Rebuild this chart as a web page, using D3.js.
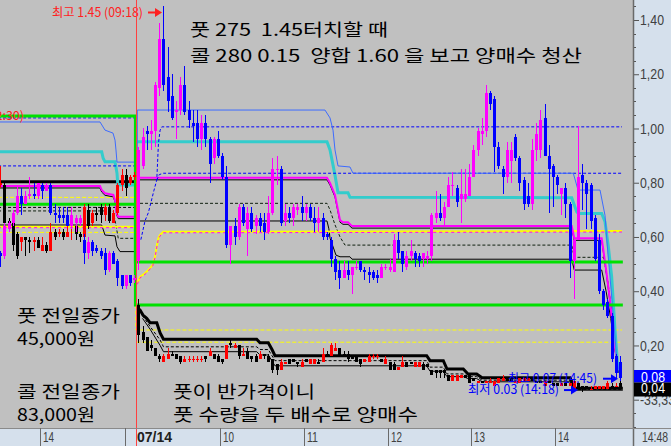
<!DOCTYPE html>
<html><head><meta charset="utf-8">
<script src="https://cdn.jsdelivr.net/npm/d3@7"></script>
<style>
html,body{margin:0;padding:0;background:#c0c0c0;}
svg{display:block;}
text{white-space:pre;}
</style></head><body>
<svg id="c" width="671" height="446"></svg>
<script>
// ---------- DATA ----------
// bar index: 0 = 09:00 today (3-minute bars); negative = previous day
const putPrevStart = -33;
const putPrev = [
[0.54,0.55,0.49,0.53],[0.53,0.65,0.52,0.64],[0.63,0.66,0.62,0.65],[0.65,0.70,0.64,0.69],
[0.69,0.79,0.68,0.75],[0.75,0.78,0.68,0.72],[0.72,0.77,0.72,0.75],[0.75,0.82,0.74,0.76],
[0.76,0.80,0.74,0.75],[0.75,0.80,0.74,0.80],[0.79,0.80,0.74,0.77],[0.77,0.80,0.77,0.79],
[0.79,0.80,0.68,0.69],[0.69,0.72,0.65,0.68],[0.68,0.71,0.65,0.67],[0.68,0.71,0.65,0.67],
[0.68,0.71,0.64,0.64],[0.64,0.71,0.63,0.68],[0.65,0.68,0.62,0.67],[0.65,0.68,0.64,0.67],
[0.59,0.61,0.50,0.54],[0.54,0.60,0.52,0.58],[0.58,0.59,0.53,0.55],[0.56,0.57,0.54,0.55],
[0.55,0.56,0.52,0.53],[0.54,0.56,0.46,0.48],[0.48,0.55,0.47,0.54],[0.54,0.55,0.50,0.50],
[0.51,0.52,0.42,0.45],[0.46,0.46,0.41,0.42],[0.42,0.46,0.41,0.46],[0.46,0.46,0.42,0.43],
[0.44,0.46,0.43,0.45]];
const callPrev = [
[0.79,0.86,0.78,0.80],[0.79,0.80,0.62,0.65],[0.66,0.67,0.63,0.64],[0.65,0.66,0.55,0.57],
[0.61,0.62,0.52,0.53],[0.58,0.60,0.55,0.60],[0.60,0.60,0.53,0.59],[0.59,0.60,0.54,0.58],
[0.58,0.60,0.55,0.59],[0.59,0.60,0.56,0.56],[0.55,0.60,0.55,0.57],[0.57,0.58,0.54,0.55],
[0.55,0.65,0.55,0.62],[0.62,0.63,0.59,0.60],[0.61,0.63,0.60,0.62],[0.62,0.63,0.59,0.60],
[0.60,0.66,0.60,0.62],[0.64,0.69,0.59,0.67],[0.64,0.65,0.59,0.61],[0.61,0.62,0.58,0.60],
[0.60,0.72,0.55,0.71],[0.70,0.72,0.63,0.64],[0.65,0.70,0.64,0.69],[0.69,0.71,0.66,0.68],
[0.71,0.72,0.65,0.68],[0.68,0.72,0.66,0.71],[0.71,0.72,0.65,0.66],[0.65,0.70,0.65,0.69],
[0.69,0.80,0.68,0.79],[0.79,0.85,0.77,0.83],[0.83,0.85,0.75,0.78],[0.80,0.83,0.79,0.82],
[0.82,0.84,0.81,0.83]];
const putToday = [
[0.51,0.93,0.48,0.92],[0.86,1.00,0.85,0.97],[0.99,1.01,0.92,0.98],[0.98,1.03,0.92,0.99],
[0.99,1.17,0.93,1.16],[1.15,1.39,1.12,1.33],[1.33,1.45,1.14,1.16],[1.19,1.30,1.06,1.10],
[1.12,1.20,1.03,1.04],[1.06,1.10,0.96,1.07],[1.07,1.19,1.05,1.16],[1.16,1.23,1.05,1.06],
[1.07,1.10,1.00,1.03],[1.02,1.07,0.95,1.01],[1.02,1.07,0.93,0.96],[0.96,1.05,0.92,1.02],
[1.02,1.05,0.93,0.96],[0.96,0.97,0.80,0.87],[0.89,0.97,0.87,0.96],[0.96,0.99,0.89,0.90],
[0.90,0.91,0.81,0.82],[0.82,0.86,0.56,0.57],[0.57,0.64,0.50,0.64],[0.64,0.67,0.57,0.60],
[0.60,0.72,0.59,0.71],[0.71,0.72,0.64,0.65],[0.63,0.71,0.53,0.69],[0.69,0.71,0.62,0.63],
[0.64,0.68,0.61,0.67],[0.67,0.69,0.62,0.64],[0.65,0.69,0.59,0.62],[0.62,0.75,0.61,0.69],
[0.69,0.89,0.68,0.85],[0.85,0.90,0.79,0.85],[0.85,0.86,0.64,0.65],[0.66,0.72,0.64,0.69],
[0.69,0.71,0.65,0.67],[0.67,0.72,0.64,0.71],[0.70,0.72,0.68,0.71],[0.71,0.75,0.66,0.69],
[0.69,0.72,0.66,0.71],[0.71,0.72,0.66,0.67],[0.67,0.71,0.62,0.65],[0.65,0.71,0.62,0.67],
[0.67,0.69,0.59,0.60],[0.61,0.62,0.59,0.60],[0.59,0.60,0.49,0.52],[0.52,0.53,0.44,0.47],
[0.48,0.51,0.41,0.45],[0.45,0.51,0.45,0.48],[0.48,0.51,0.44,0.46],[0.46,0.49,0.39,0.49],
[0.49,0.51,0.48,0.49],[0.51,0.51,0.47,0.48],[0.48,0.49,0.44,0.47],[0.47,0.49,0.43,0.46],
[0.47,0.48,0.44,0.45],[0.46,0.48,0.43,0.45],[0.45,0.50,0.45,0.49],[0.49,0.50,0.48,0.49],
[0.48,0.52,0.47,0.49],[0.47,0.61,0.47,0.59],[0.59,0.62,0.52,0.54],[0.55,0.55,0.47,0.50],
[0.49,0.55,0.48,0.53],[0.53,0.59,0.51,0.55],[0.54,0.55,0.49,0.52],[0.53,0.54,0.49,0.51],
[0.52,0.54,0.49,0.54],[0.52,0.55,0.50,0.53],[0.53,0.69,0.51,0.68],[0.67,0.77,0.65,0.69],
[0.69,0.76,0.66,0.67],[0.67,0.73,0.64,0.71],[0.71,0.82,0.71,0.79],[0.79,0.84,0.75,0.79],
[0.78,0.79,0.71,0.73],[0.74,0.85,0.65,0.76],[0.74,0.85,0.73,0.76],[0.75,0.87,0.75,0.82],
[0.82,0.94,0.82,0.92],[0.92,1.00,0.90,0.99],[0.98,1.04,0.94,0.99],[0.99,1.16,0.97,1.13],
[1.13,1.14,1.07,1.09],[1.11,1.12,0.84,0.93],[0.93,0.95,0.85,0.86],[0.85,0.86,0.76,0.82],
[0.82,0.95,0.80,0.92],[0.88,0.95,0.80,0.92],[0.97,0.98,0.88,0.89],[0.89,0.90,0.77,0.80],
[0.81,0.82,0.70,0.72],[0.75,0.80,0.71,0.72],[0.72,0.96,0.70,0.92],[0.92,1.02,0.88,0.98],
[0.92,1.07,0.89,1.03],[1.04,1.09,0.90,0.90],[0.90,0.94,0.69,0.85],[0.86,0.87,0.71,0.82],
[0.82,0.83,0.76,0.79],[0.76,0.78,0.68,0.78],[0.78,0.80,0.67,0.72],[0.72,0.73,0.45,0.51],
[0.51,0.60,0.37,0.59],[0.59,1.01,0.59,0.82],[0.83,0.87,0.70,0.80],[0.80,0.81,0.63,0.76],
[0.79,0.80,0.63,0.66],[0.67,0.68,0.51,0.52],[0.59,0.61,0.39,0.40],[0.40,0.41,0.33,0.35],
[0.36,0.37,0.30,0.31],[0.31,0.32,0.14,0.15],[0.16,0.17,0.08,0.10],[0.14,0.16,0.07,0.08]];
const callToday = [
[0.35,0.37,0.21,0.24],[0.25,0.27,0.21,0.22],[0.23,0.23,0.18,0.18],[0.20,0.22,0.18,0.19],
[0.19,0.19,0.16,0.16],[0.16,0.17,0.14,0.15],[0.14,0.17,0.14,0.16],[0.15,0.19,0.15,0.17],
[0.17,0.18,0.16,0.16],[0.17,0.17,0.15,0.15],[0.16,0.16,0.13,0.14],[0.14,0.16,0.14,0.15],
[0.15,0.16,0.14,0.15],[0.15,0.16,0.14,0.15],[0.15,0.16,0.14,0.15],[0.15,0.16,0.14,0.15],
[0.16,0.16,0.14,0.15],[0.16,0.19,0.16,0.18],[0.17,0.17,0.15,0.15],[0.16,0.17,0.14,0.14],
[0.15,0.15,0.13,0.14],[0.15,0.20,0.15,0.20],[0.21,0.22,0.19,0.20],[0.19,0.21,0.19,0.20],
[0.20,0.20,0.15,0.16],[0.16,0.19,0.16,0.17],[0.18,0.19,0.15,0.15],[0.16,0.16,0.14,0.15],
[0.16,0.17,0.14,0.14],[0.15,0.18,0.15,0.17],[0.17,0.17,0.15,0.16],[0.16,0.17,0.14,0.14],
[0.15,0.15,0.10,0.11],[0.13,0.13,0.09,0.11],[0.11,0.15,0.11,0.14],[0.13,0.14,0.13,0.14],
[0.15,0.15,0.13,0.13],[0.15,0.15,0.14,0.14],[0.14,0.14,0.12,0.13],[0.12,0.15,0.12,0.14],
[0.15,0.15,0.14,0.14],[0.13,0.15,0.13,0.15],[0.13,0.15,0.13,0.15],[0.14,0.15,0.13,0.13],
[0.14,0.19,0.14,0.17],[0.17,0.18,0.16,0.16],[0.16,0.21,0.16,0.20],[0.18,0.21,0.18,0.19],
[0.19,0.19,0.16,0.16],[0.17,0.18,0.16,0.16],[0.17,0.18,0.14,0.15],[0.16,0.16,0.15,0.15],
[0.16,0.16,0.14,0.14],[0.15,0.15,0.12,0.13],[0.14,0.15,0.14,0.15],[0.14,0.17,0.14,0.16],
[0.16,0.17,0.15,0.16],[0.16,0.17,0.15,0.16],[0.15,0.15,0.14,0.14],[0.13,0.16,0.13,0.15],
[0.14,0.14,0.11,0.11],[0.13,0.14,0.11,0.11],[0.11,0.12,0.11,0.12],[0.12,0.16,0.12,0.14],
[0.14,0.14,0.12,0.12],[0.14,0.14,0.13,0.13],[0.12,0.14,0.12,0.14],[0.12,0.14,0.12,0.14],
[0.13,0.14,0.11,0.11],[0.13,0.13,0.12,0.12],[0.11,0.11,0.09,0.09],[0.11,0.11,0.08,0.10],
[0.11,0.11,0.08,0.10],[0.11,0.11,0.08,0.10],[0.09,0.09,0.07,0.07],[0.07,0.09,0.07,0.09],
[0.07,0.09,0.07,0.09],[0.08,0.09,0.08,0.09],[0.09,0.09,0.08,0.08],[0.09,0.09,0.06,0.06],
[0.08,0.08,0.07,0.07],[0.06,0.07,0.06,0.07],[0.07,0.07,0.06,0.06],[0.06,0.07,0.06,0.07],
[0.06,0.08,0.06,0.07],[0.05,0.07,0.05,0.07],[0.06,0.08,0.06,0.08],[0.07,0.09,0.07,0.08],
[0.08,0.08,0.07,0.07],[0.08,0.08,0.07,0.07],[0.06,0.07,0.06,0.07],[0.06,0.08,0.06,0.08],
[0.07,0.08,0.07,0.08],[0.07,0.08,0.07,0.08],[0.08,0.08,0.07,0.07],[0.07,0.07,0.06,0.06],
[0.07,0.07,0.06,0.06],[0.05,0.07,0.05,0.07],[0.07,0.07,0.06,0.06],[0.06,0.06,0.05,0.05],
[0.06,0.06,0.05,0.05],[0.05,0.06,0.05,0.06],[0.06,0.06,0.05,0.05],[0.05,0.06,0.05,0.06],
[0.04,0.07,0.04,0.07],[0.06,0.06,0.04,0.04],[0.05,0.05,0.03,0.04],[0.05,0.05,0.04,0.04],
[0.04,0.05,0.04,0.04],[0.04,0.05,0.04,0.05],[0.04,0.05,0.04,0.05],[0.04,0.05,0.04,0.05],
[0.04,0.07,0.04,0.06],[0.05,0.06,0.04,0.05],[0.05,0.06,0.05,0.05],[0.06,0.07,0.04,0.04]];

// indicator lines: [barPosition, value]; null = break between sessions
const lineGreenA = [[-33,1.046],[-0.2,1.046],[-0.2,0.349],[116.2,0.349]];
const lineGreenB = [[-33,0.721],[-0.2,0.721],[-0.2,0.508],[116.2,0.508]];
const lineBlueSolid = [[-33,1.024],[-8.65,1.024],[-7.46,0.994],[-5.55,0.983],[-5.07,0.957],[-4.84,0.921],[-4.6,0.876],[0.25,0.876],[0.25,1.068],[45.07,1.068],[46.27,1.039],[46.99,0.994],[47.46,0.921],[48.18,0.862],[51.04,0.858],[51.76,0.835],[104.37,0.835],[105.5,0.773],[110.75,0.773],[111.94,0.68],[112.66,0.535],[113.6,0.37],[114.6,0.18],[115.3,0.10]];
const lineBlueDashA = [[-33,1.039],[-0.3,1.039],null,[1.1,0.59],[2.1,0.66],[2.9,0.69],[4.2,0.77],[4.9,0.81],[5.3,0.945],[5.7,0.994],[6.1,1.006],[116.0,1.006]];
const lineBlueDashB = [[-33,0.862],[-0.3,0.862],null,[4.9,0.81],[5.5,0.83],[6.5,0.835],[116.0,0.835]];
const lineCyan = [[-33,0.914],[-8.25,0.914],[-7.9,0.89],[-7.46,0.877],[-5.07,0.877],[-4.6,0.835],[-4.4,0.792],[-0.3,0.792],null,[0.0,0.951],[45.55,0.951],[46.27,0.921],[46.99,0.865],[47.46,0.828],[48.18,0.763],[50.57,0.763],[51.04,0.746],[103.99,0.745],[105.18,0.693],[105.57,0.687],[111.15,0.687],[111.94,0.656],[112.74,0.564],[113.54,0.453],[114.33,0.257],[115.05,0.11]];
const lineMagenta = [[-33,0.788],[-8.65,0.788],[-8.25,0.773],[-7.46,0.761],[-5.47,0.755],[-5.07,0.736],[-4.68,0.688],[-4.29,0.675],[-0.3,0.675],null,[0.9,0.818],[45.55,0.818],[46.27,0.799],[47.46,0.755],[48.66,0.662],[49.37,0.654],[50.57,0.654],[51.52,0.640],[103.99,0.640],[104.6,0.595],[111.15,0.595],[112.2,0.48],[113.1,0.37],[114.1,0.22],[115.0,0.11]];
const lineBlackThin = [[-33,0.644],[-8.25,0.644],[-7.46,0.607],[-5.07,0.604],[-4.6,0.564],[-3.88,0.546],[-0.3,0.546],null,[0.9,0.659],[45.55,0.659],[46.0,0.63],[46.27,0.596],[47.7,0.533],[48.66,0.527],[51.04,0.527],[51.52,0.518],[103.99,0.518],[104.6,0.478],[111.15,0.478],[112.2,0.40],[113.3,0.30],[114.3,0.19],[115.1,0.10]];
const lineBlackDash = [[-33,0.696],[-5.5,0.696],[-4.8,0.64],[-4.3,0.595],[-0.3,0.595],null,[0.9,0.724],[45.55,0.724],[46.27,0.70],[47.46,0.645],[48.66,0.60],[49.85,0.57],[103.99,0.570],[104.6,0.525],[111.6,0.525],[112.5,0.45],[113.5,0.33],[114.5,0.2],[115.2,0.1]];
const lineBlackDash2 = [[-33,0.709],[-0.3,0.709]];
const lineYellowMag = [[-33,0.638],[-0.3,0.638],null,[0.25,0.429],[0.9,0.453],[2.09,0.466],[2.88,0.478],[3.93,0.497],[4.48,0.527],[4.88,0.564],[5.27,0.595],[5.67,0.607],[6.46,0.619],[116.0,0.622]];
const lineYellowA = [[-33,0.617],[-0.1,0.617],[-0.1,0.257],[116.0,0.257]];
const lineYellowB = [[-33,0.746],[-0.3,0.746],null,[0.0,0.212],[116.0,0.212]];
const lineBlackThick = [[-33,0.804],[-0.3,0.804],null,[0.25,0.338],[0.9,0.331],[1.6,0.312],[2.5,0.30],[3.3,0.284],[4.9,0.284],[5.7,0.246],[6.5,0.223],[28.76,0.223],[29.55,0.21],[31.53,0.21],[32.42,0.185],[33.13,0.162],[69.36,0.162],[70.15,0.144],[73.33,0.144],[74.21,0.113],[78.10,0.113],[79.22,0.095],[81.30,0.095],[82.57,0.081],[103.58,0.081],[104.78,0.042],[116.2,0.042]];
const lineCallDash = [[1.5,0.31],[3.3,0.27],[5.7,0.22],[6.5,0.195],[28.76,0.195],[29.55,0.185],[31.53,0.185],[33.13,0.144],[69.36,0.144],[70.15,0.12],[73.33,0.12],[74.21,0.095],[78.1,0.095],[79.22,0.085],[81.3,0.085],[82.57,0.072],[103.58,0.072],[104.78,0.038],[116.2,0.038]];
const lineCallThin = [[1.5,0.30],[3.3,0.26],[5.7,0.20],[6.5,0.177],[28.76,0.177],[29.55,0.165],[31.53,0.165],[33.13,0.125],[69.36,0.125],[70.15,0.105],[73.33,0.105],[74.21,0.085],[78.1,0.085],[79.22,0.078],[81.3,0.078],[82.57,0.066],[103.58,0.066],[104.78,0.035],[116.2,0.035]];

// axis
const yTickValues = [1.4,1.2,1.0,0.8,0.6,0.4,0.2];
const yExtraLabel = "-33,33";
const xTickBars = [-23,-2.7,0,20,40,60,80,100];
const xTickLabels = ["14","","07/14","10","11","12","13","14"];
const lastTimeLabel = "14:48";
const putLast = 0.08, callLast = 0.04;

// ---------- DRAW ----------
const W=671,H=446,PW=633,PH=428;
const svg=d3.select("#c");
const x=d3.scaleLinear().domain([0,100]).range([136.25,555]);
const y=d3.scaleLinear().domain([0,1.4]).range([399.7,20]);
const KR="'Noto Sans CJK KR','Noto Sans KR',sans-serif";
const LAT="'Liberation Sans',Arial,sans-serif";

svg.append("rect").attr("width",PW).attr("height",PH).attr("fill","#c0c0c0");
svg.append("rect").attr("x",PW).attr("width",W-PW).attr("height",H).attr("fill","#d5e0ec");
svg.append("rect").attr("y",PH).attr("width",PW).attr("height",H-PH).attr("fill","#d5e0ec");
svg.append("defs").append("clipPath").attr("id","pc").append("rect").attr("width",PW).attr("height",PH);
const plot=svg.append("g").attr("clip-path","url(#pc)");

const lg=d3.line().defined(d=>d!==null).x(d=>x(d[0])).y(d=>y(d[1]));
function L(data,color,w,dash,dy){
  plot.append("path").attr("d",lg(data)).attr("fill","none").attr("stroke",color)
    .attr("stroke-width",w).attr("stroke-dasharray",dash||null)
    .attr("transform",dy?`translate(0,${dy})`:null);
}
L(lineYellowB,"#ffff00",1,"4,2");
L(lineYellowA,"#ffff00",1,"4,2");
L(lineBlackDash2,"#000",1,"3,2");
L(lineBlackDash,"#102010",1,"3,2");
L(lineBlackThin,"#000",1);
L(lineYellowMag,"#ffff00",2);
L(lineYellowMag,"#ff00ff",1,"3,3",1);
L(lineMagenta,"#000",1,null,2);
L(lineMagenta,"#ff00ff",2);
L(lineBlackThick,"#000",3);
L(lineCallDash,"#000",1,"3,2");
L(lineCallThin,"#000",1);
L(lineCyan,"#33cccc",3);
L(lineBlueDashB,"#0000ff",1,"3,2");
L(lineBlueDashA,"#0000ff",1,"3,2");
L(lineBlueSolid,"#3d6bff",1);
L(lineGreenB,"#00e000",3);
L(lineGreenA,"#00e000",3);

function candles(data,start,up,down){
  const g=plot.append("g").attr("shape-rendering","crispEdges");
  const items=data.map((d,k)=>{
    const [o,h,l,c]=d; const pc=k>0?data[k-1][3]:o;
    const isUp=c>o||(c===o&&c>=pc);
    return {i:start+k,o,h,l,c,col:isUp?up:down};
  });
  g.selectAll(".w").data(items).join("rect")
    .attr("x",d=>Math.round(x(d.i+0.5))).attr("width",1)
    .attr("y",d=>Math.round(y(d.h))).attr("height",d=>Math.max(1,Math.round(y(d.l))-Math.round(y(d.h))))
    .attr("fill",d=>d.col);
  g.selectAll(".b").data(items).join("rect")
    .attr("x",d=>Math.round(x(d.i+0.5))-1).attr("width",3)
    .attr("y",d=>Math.round(y(Math.max(d.o,d.c))))
    .attr("height",d=>Math.max(1,Math.round(y(Math.min(d.o,d.c)))-Math.round(y(Math.max(d.o,d.c)))))
    .attr("fill",d=>d.col);
}
candles(callPrev,putPrevStart,"#ff0000","#000000");
candles(callToday,0,"#ff0000","#000000");
candles(putPrev,putPrevStart,"#ff00ff","#0000ff");
candles(putToday,0,"#ff00ff","#0000ff");

// day separator
svg.append("line").attr("x1",136.5).attr("x2",136.5).attr("y1",0).attr("y2",H).attr("stroke","#ff4040").attr("stroke-width",1);

// annotations
function txt(g,s,x0,y0,size,color,len,anchor){
  const t=g.append("text").attr("x",x0).attr("y",y0).attr("font-family",KR).attr("font-size",size)
    .attr("fill",color).attr("xml:space","preserve").text(s);
  if(len) t.attr("textLength",len).attr("lengthAdjust","spacingAndGlyphs");
  if(anchor) t.attr("text-anchor",anchor);
  return t;
}
function arrow(g,x0,x1,yy,color){
  g.append("line").attr("x1",x0).attr("x2",x1-6).attr("y1",yy).attr("y2",yy).attr("stroke",color).attr("stroke-width",2);
  g.append("path").attr("d",`M${x1-7},${yy-4.5}L${x1},${yy}L${x1-7},${yy+4.5}Z`).attr("fill",color);
}
const ann=plot.append("g");
const maxI=d3.maxIndex(putToday,d=>d[1]);
txt(ann,"최고 1.45 (09:18)",52,16.5,12.5,"#ff2020",91);
arrow(ann,148,Math.round(x(maxI+0.5))-1,12.5,"#ff2020");
txt(ann,"(12:30)",24,120,12.5,"#ff2020",null,"end");
const hiI=115, loI=106;
txt(ann,"최고 0.07 (14:45)",508,382.5,12.5,"#0000ff",89);
txt(ann,"최저 0.03 (14:18)",468,393.5,12.5,"#0000ff",91);
arrow(ann,603,Math.round(x(hiI+0.5))-2,y(callToday[hiI][1])-2,"#0000ff");
arrow(ann,564,Math.round(x(loI+0.5))-4,y(callToday[loI][2])-1.5,"#0000ff");

txt(ann,"풋 275  1.45터치할 때",190,35.5,17,"#000",198);
txt(ann,"콜 280 0.15  양합 1.60 을 보고 양매수 청산",190,61.5,17,"#000",392);
txt(ann,"풋 전일종가",17,321.5,17,"#000",103);
txt(ann,"45,000원",17,345,17,"#000",78);
txt(ann,"콜 전일종가",17,397.5,17,"#000",103);
txt(ann,"83,000원",17,420.5,17,"#000",78);
txt(ann,"풋이 반가격이니",173,398,17,"#000",142);
txt(ann,"풋 수량을 두 배수로 양매수",173,421,17,"#000",245);

// right axis
const ax=svg.append("g").attr("transform",`translate(${PW},0)`);
const minor=d3.range(-0.10,1.4501,0.05).filter(v=>Math.abs(Math.round(v*10)/10-v)>1e-6||Math.round(v*10)%2!==0);
ax.selectAll(".mt").data(minor).join("line").attr("x1",0).attr("x2",3)
  .attr("y1",d=>Math.round(y(d))+0.5).attr("y2",d=>Math.round(y(d))+0.5).attr("stroke","#555");
const yAxis=d3.axisRight(y).tickValues(yTickValues.concat([0])).tickSize(6).tickPadding(1)
  .tickFormat(d=>d===0?yExtraLabel:d3.format(".2f")(d).replace(".",","));
const ga=ax.append("g").call(yAxis);
ga.select(".domain").remove();
ga.selectAll("line").attr("stroke","#555");
ga.selectAll("text").attr("font-family",LAT).attr("font-size",14.5).attr("fill","#404040")
  .attr("textLength",d=>d===0?35:24).attr("lengthAdjust","spacingAndGlyphs");
svg.append("line").attr("x1",PW+0.5).attr("x2",PW+0.5).attr("y1",0).attr("y2",H).attr("stroke","#6a6a6a").attr("stroke-width",1.5);

// last price boxes
const bx=svg.append("g");
bx.append("rect").attr("x",PW+1).attr("y",y(putLast)-8).attr("width",W-PW).attr("height",12.5).attr("fill","#0000ff");
bx.append("text").attr("x",PW+8).attr("y",y(putLast)+3.5).attr("fill","#fff").attr("font-family",LAT).attr("font-size",14)
  .attr("textLength",24).attr("lengthAdjust","spacingAndGlyphs").text(d3.format(".2f")(putLast).replace(".",","));
bx.append("rect").attr("x",PW+1).attr("y",y(putLast)+4.5).attr("width",W-PW).attr("height",14).attr("fill","#000");
bx.append("text").attr("x",PW+8).attr("y",y(callLast)+4.5).attr("fill","#fff").attr("font-family",LAT).attr("font-size",14)
  .attr("textLength",24).attr("lengthAdjust","spacingAndGlyphs").text(d3.format(".2f")(callLast).replace(".",","));

// bottom axis
const bt=svg.append("g");
bt.append("line").attr("x1",0).attr("x2",W).attr("y1",PH+0.5).attr("y2",PH+0.5).attr("stroke","#8a8a8a");
xTickBars.forEach((b,k)=>{
  const xx=Math.round(x(b));
  if(b!==0) bt.append("line").attr("x1",xx+0.5).attr("x2",xx+0.5).attr("y1",PH).attr("y2",H).attr("stroke","#6a6a6a");
  if(xTickLabels[k]) bt.append("text").attr("x",xx+(b===0?1:3)).attr("y",441.5).attr("font-family",LAT)
    .attr("font-size",14).attr("font-weight",b===0?"bold":null).attr("fill",b===0?"#202020":"#404040")
    .attr("textLength",b===0?35:11).attr("lengthAdjust","spacingAndGlyphs").text(xTickLabels[k]);
});
bt.append("text").attr("x",PW+9).attr("y",441.5).attr("font-family",LAT).attr("font-size",14).attr("fill","#404040")
  .attr("textLength",26).attr("lengthAdjust","spacingAndGlyphs").text(lastTimeLabel);
</script></body></html>
